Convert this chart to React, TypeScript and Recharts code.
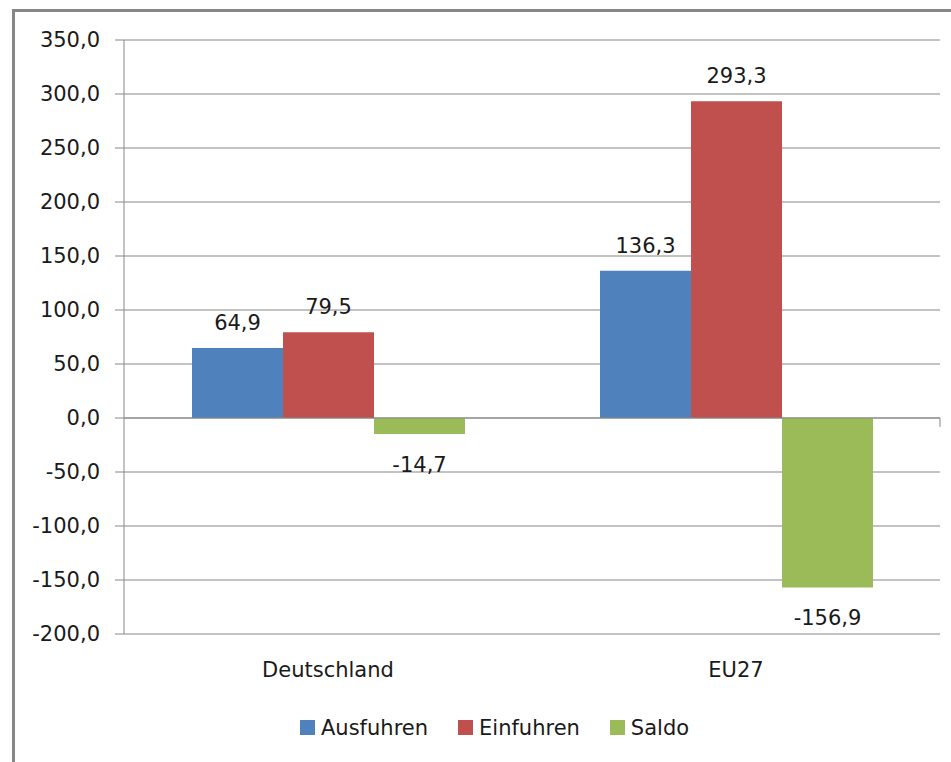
import { BarChart, Bar, XAxis, YAxis, CartesianGrid, Legend, ReferenceLine, LabelList } from 'recharts';

const regions = ['Deutschland', 'EU27'];
const ausfuhren = [64.9, 136.3];
const einfuhren = [79.5, 293.3];
const saldo = [-14.7, -156.9];
const yTicks = [350, 300, 250, 200, 150, 100, 50, 0, -50, -100, -150, -200];
const boundaries = [1, 2]; // Kategoriegrenzen für Teilstriche auf der Nulllinie

const seriesInfo = [
  { key: 'ausfuhren', name: 'Ausfuhren', color: '#4F81BD' },
  { key: 'einfuhren', name: 'Einfuhren', color: '#C0504D' },
  { key: 'saldo', name: 'Saldo', color: '#9BBB59' },
];

const data = regions.map((r, i) => ({
  name: r,
  ausfuhren: ausfuhren[i],
  einfuhren: einfuhren[i],
  saldo: saldo[i],
}));

const FONT = 'DejaVu Sans';
const GRID = '#878787';
const TEXT = '#1a1a1a';

const fmt = (v: number) => v.toFixed(1).replace('.', ',');

const renderLabel = (props: any) => {
  const { x, y, width, height, value } = props;
  const top = Math.min(y, y + height);
  const bottom = Math.max(y, y + height);
  const ty = value >= 0 ? top - 18 : bottom + 38;
  return (
    <text x={x + width / 2} y={ty} textAnchor="middle" fontFamily={FONT} fontSize={21} fill={TEXT}>
      {fmt(value)}
    </text>
  );
};

const renderLegend = () => (
  <div style={{ display: 'flex', alignItems: 'center', paddingLeft: 300, height: 45, fontFamily: FONT, fontSize: 21, color: TEXT }}>
    {seriesInfo.map((s) => (
      <div key={s.key} style={{ display: 'flex', alignItems: 'center', marginRight: 30 }}>
        <span style={{ display: 'inline-block', width: 15, height: 15, background: s.color, marginRight: 6 }} />
        <span>{s.name}</span>
      </div>
    ))}
  </div>
);

export default function App() {
  return (
    <div style={{ position: 'fixed', left: 0, top: 0, width: 951, height: 762, overflow: 'hidden', background: '#fff' }}>
      <div style={{ position: 'absolute', left: 12, top: 9, width: 1000, height: 1000, border: `3px solid ${GRID}` }} />
      <div style={{ position: 'absolute', left: 0, top: 0 }}>
        <BarChart
          width={951}
          height={762}
          data={data}
          margin={{ top: 40, right: 11, left: 0, bottom: 0 }}
          barCategoryGap="16.67%"
          barGap={0}
        >
          <CartesianGrid vertical={false} stroke={GRID} strokeWidth={1} />
          <XAxis
            dataKey="name"
            axisLine={false}
            tickLine={false}
            tickSize={0}
            tickMargin={28}
            height={83}
            tick={{ fontFamily: FONT, fontSize: 21, fill: TEXT }}
          />
          <XAxis xAxisId="b" type="number" domain={[0, 2]} hide />
          <YAxis
            width={124}
            domain={[-200, 350]}
            ticks={yTicks}
            interval={0}
            tickSize={9}
            tickMargin={15}
            stroke={GRID}
            tickFormatter={fmt}
            tick={{ fontFamily: FONT, fontSize: 21, fill: TEXT }}
          />
          <ReferenceLine y={0} stroke={GRID} strokeWidth={1} />
          {boundaries.map((b) => (
            <ReferenceLine
              key={b}
              xAxisId="b"
              segment={[{ x: b, y: 0 }, { x: b, y: -8.3 }]}
              stroke={GRID}
              strokeWidth={1}
            />
          ))}
          <Legend verticalAlign="bottom" content={renderLegend} wrapperStyle={{ left: 0, top: 705, width: 951, height: 45 }} />
          {seriesInfo.map((s) => (
            <Bar key={s.key} dataKey={s.key} name={s.name} fill={s.color} isAnimationActive={false}>
              <LabelList dataKey={s.key} content={renderLabel} />
            </Bar>
          ))}
        </BarChart>
      </div>
    </div>
  );
}
